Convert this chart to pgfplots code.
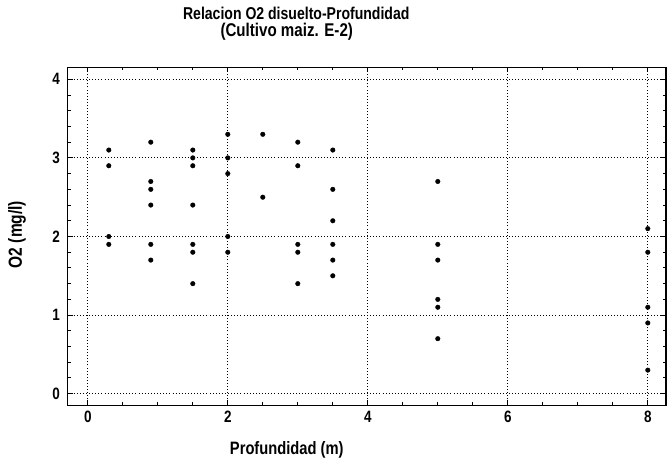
\documentclass[border=0pt]{standalone}
\usepackage{fontspec}
\setmainfont{Liberation Sans}[FakeStretch=0.82, BoldFont={Liberation Sans Bold}, BoldFeatures={FakeStretch=0.82}]
\usepackage{pgfplots}
\pgfplotsset{compat=1.18}
\begin{document}
\begin{tikzpicture}
\begin{axis}[
  scale only axis,
  width=598.5bp, height=338bp,
  xmin=-0.29, xmax=8.26, ymin=-0.15, ymax=4.15,
  xtick={0,2,4,6,8}, ytick={0,1,2,3,4},
  minor x tick num=3, minor y tick num=4,
  tick align=inside,
  major tick length=5bp, minor tick length=3bp,
  axis line style={line width=1.6pt},
  every tick/.style={black, line width=1pt},
  grid=major,
  major grid style={black, line width=0.9pt, dash pattern=on 0.9pt off 2.2pt},
  /pgf/number format/assume math mode=true,
  tick label style={font=\fontsize{16.5}{16.5}\selectfont\bfseries},
  xticklabel style={yshift=-2bp},
  yticklabel style={xshift=-4bp},
  clip=false,
]
\addplot[only marks, mark=*, mark size=2.3pt, black] coordinates {
(0.3,3.1) (0.3,2.9) (0.3,2.0) (0.3,1.9)
(0.9,3.2) (0.9,2.7) (0.9,2.6) (0.9,2.4) (0.9,1.9) (0.9,1.7)
(1.5,3.1) (1.5,3.0) (1.5,2.9) (1.5,2.4) (1.5,1.9) (1.5,1.8) (1.5,1.4)
(2.0,3.3) (2.0,3.0) (2.0,2.8) (2.0,2.0) (2.0,1.8)
(2.5,3.3) (2.5,2.5)
(3.0,3.2) (3.0,2.9) (3.0,1.9) (3.0,1.8) (3.0,1.4)
(3.5,3.1) (3.5,2.6) (3.5,2.2) (3.5,1.9) (3.5,1.7) (3.5,1.5)
(5.0,2.7) (5.0,1.9) (5.0,1.7) (5.0,1.2) (5.0,1.1) (5.0,0.7)
(8.0,2.1) (8.0,1.8) (8.0,1.1) (8.0,0.9) (8.0,0.3)
};
\node[inner sep=0pt, font=\fontsize{17.2}{17.2}\selectfont\bfseries] at ([shift={(-70.5bp,54.5bp)}]current axis.north) {Relacion O2 disuelto-Profundidad};
\node[inner sep=0pt, font=\fontsize{18.5}{18.5}\selectfont\bfseries] at ([shift={(-80bp,36bp)}]current axis.north) {(Cultivo maiz. E-2)};
\node[inner sep=0pt, font=\fontsize{18}{18}\selectfont\bfseries] at ([shift={(-80bp,-44.5bp)}]current axis.south) {Profundidad (m)};
\node[inner sep=0pt, font=\fontsize{19}{19}\selectfont\bfseries, rotate=90] at ([shift={(-50.5bp,2bp)}]current axis.west) {O2 (mg/l)};
\end{axis}
\path ([shift={(-67.5bp,-53.5bp)}]current axis.south west) rectangle ([shift={(2bp,67.5bp)}]current axis.north east);
\end{tikzpicture}
\end{document}
